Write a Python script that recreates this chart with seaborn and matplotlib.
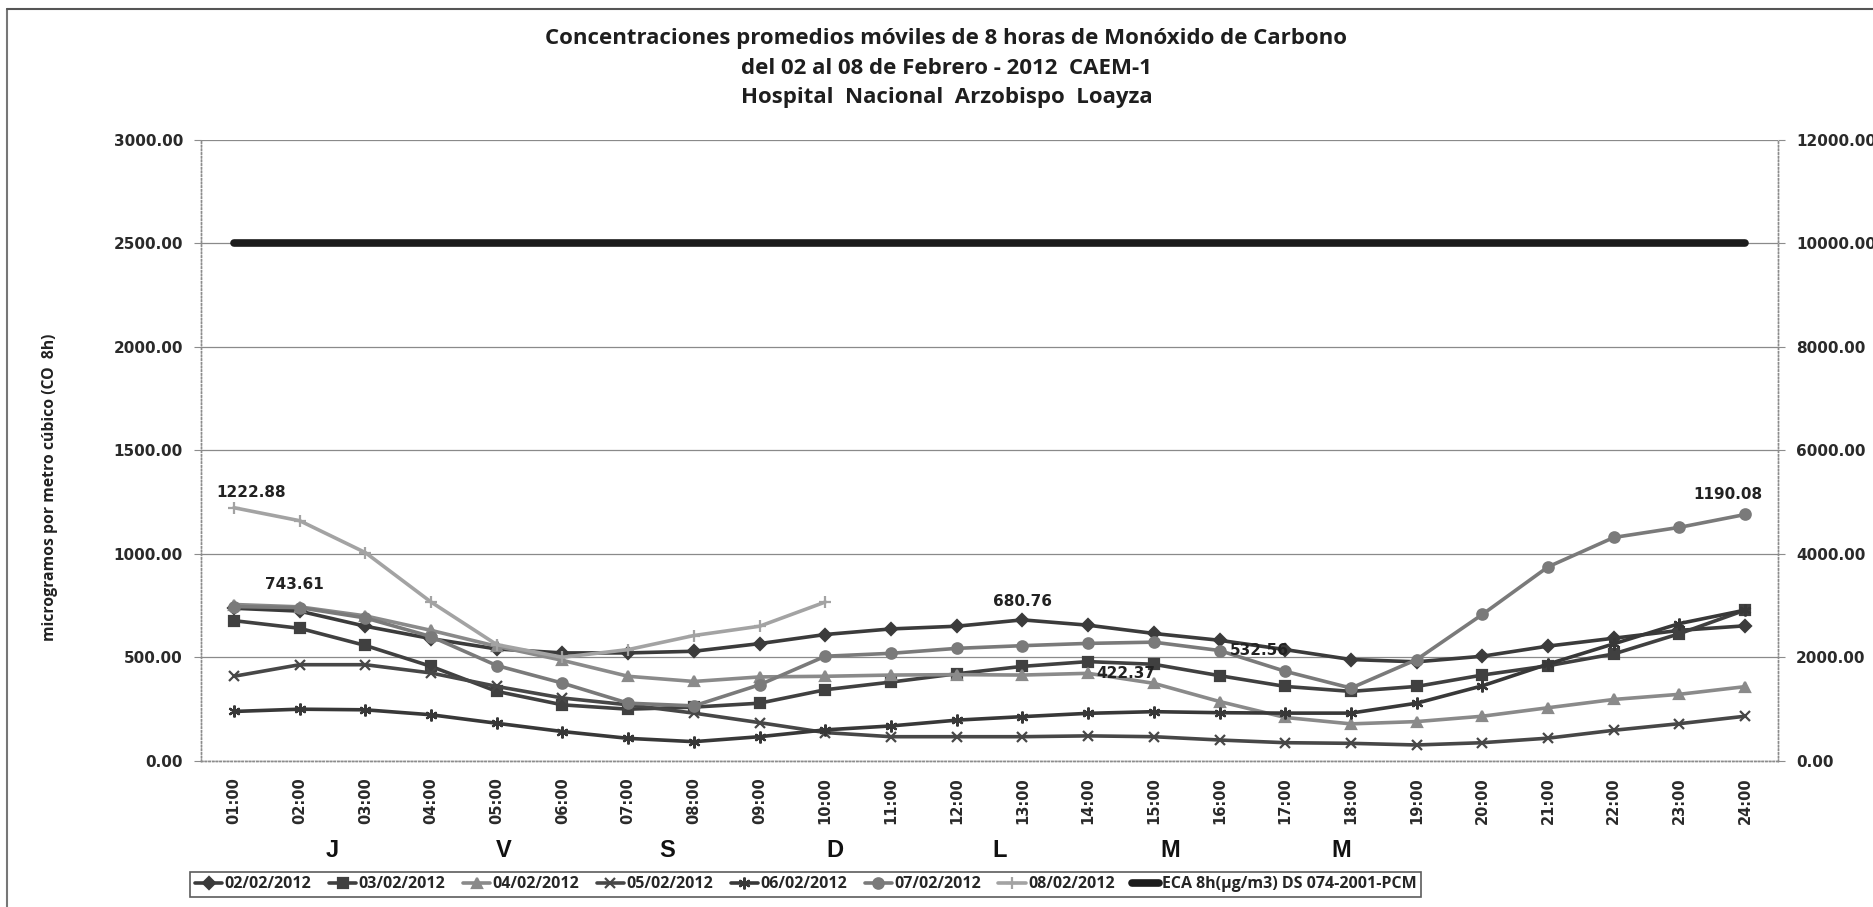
import numpy as np
import pandas as pd
import matplotlib
matplotlib.use("Agg")
import matplotlib.pyplot as plt
import seaborn as sns
from matplotlib.lines import Line2D
from matplotlib.ticker import FormatStrFormatter, MultipleLocator

# Datos (ug/m3, promedio movil 8 h)
horas = ["%02d:00" % h for h in range(1, 25)]

d_02 = [737, 723, 650, 590, 540, 521, 521, 529, 566, 610, 637, 650,
        680.76, 655, 615, 582, 537, 489, 478, 505, 554, 592, 630, 652]
d_03 = [677, 640, 557, 456, 335, 270, 249, 259, 278, 343, 380, 420,
        456, 479, 466, 411, 359, 335, 359, 414, 459, 516, 614, 728]
d_04 = [755, 743.61, 700, 630, 553, 485, 408, 383, 405, 408, 414, 416,
        414, 422.37, 374, 286, 209, 178, 189, 215, 256, 296, 321, 358]
d_05 = [408, 464, 464, 424, 359, 303, 270, 230, 184, 136, 116, 116,
        116, 120, 116, 100, 87, 84, 76, 87, 109, 147, 179, 215]
d_06 = [238, 249, 246, 222, 181, 141, 108, 92, 116, 149, 168, 196,
        213, 229, 237, 232, 230, 230, 278, 362, 467, 565, 663, 728]
d_07 = [745, 740, 690, 600, 460, 375, 278, 265, 367, 505, 519, 543,
        556, 567, 573, 532.56, 432, 351, 489, 707, 937, 1079, 1128, 1190.08]
d_08 = [1222.88, 1160, 1006, 767, 561, 500, 537, 605, 650, 767] + [np.nan] * 14
eca = [10000] * 24

fechas = ["02/02/2012", "03/02/2012", "04/02/2012", "05/02/2012",
          "06/02/2012", "07/02/2012", "08/02/2012"]
eca_label = "ECA 8h(\u00b5g/m3) DS 074-2001-PCM"
dias = ["J", "V", "S", "D", "L", "M", "M"]

# etiquetas de datos: (serie, indice hora, dx px, dy px)
etiquetas = [(6, 0, 17, 15), (2, 1, -5, 22), (0, 12, 0, 18),
             (2, 13, 38, 0), (5, 15, 40, 0), (5, 23, -17, 20)]

series = [d_02, d_03, d_04, d_05, d_06, d_07, d_08]
colores = ["#3b3b3b", "#404040", "#8a8a8a", "#474747", "#383838", "#7a7a7a", "#a3a3a3"]
marcadores = ["D", "s", "^", "x", (6, 2, 0), "o", "+"]
tamanos = [6.5, 7.5, 7.5, 7.5, 8.5, 7.5, 8.5]

sns.set_style("white")
narrow = ["Liberation Sans Narrow", "Open Sans", "DejaVu Sans"]
plt.rcParams["font.family"] = ["DejaVu Sans"]

fig = plt.figure(figsize=(18.74, 9.07), dpi=100)
ax = fig.add_axes([0.1073, 0.1613, 0.8415, 0.6843])
ax2 = ax.twinx()

for vals, fecha, col, mk, ms in zip(series, fechas, colores, marcadores, tamanos):
    sns.lineplot(x=horas, y=vals, ax=ax, color=col, marker=mk, markersize=ms,
                 markeredgecolor=col, markeredgewidth=1.6, linewidth=2.6,
                 label=fecha, sort=False, legend=False)

sns.lineplot(x=horas, y=eca, ax=ax2, color="#1c1c1c", linewidth=5.5,
             label=eca_label, sort=False, legend=False,
             solid_capstyle="round")

ax.set_xlim(-0.5, 23.5)
ax.set_ylim(0, 3000)
ax2.set_ylim(0, 12000)
ax.yaxis.set_major_locator(MultipleLocator(500))
ax2.yaxis.set_major_locator(MultipleLocator(2000))
ax.yaxis.set_major_formatter(FormatStrFormatter("%.2f"))
ax2.yaxis.set_major_formatter(FormatStrFormatter("%.2f"))

ax.grid(axis="y", color="#8a8a8a", linewidth=0.9)
ax.set_axisbelow(True)
ax.set_xlabel("")
ax.set_ylabel("microgramos por metro c\u00fabico (CO  8h)", family=narrow,
              fontweight="bold", fontsize=11.3, color="#222222")
ax.yaxis.set_label_coords(-0.091, 0.44)

for a in (ax, ax2):
    a.spines["top"].set_visible(False)
    for s in ("left", "right", "bottom"):
        a.spines[s].set_color("#8c8c8c")
        a.spines[s].set_linewidth(1.0)
        a.spines[s].set_linestyle(":")

ax.tick_params(axis="y", labelsize=11, labelcolor="#2a2a2a", length=5,
               color="#8c8c8c", pad=8)
ax2.tick_params(axis="y", labelsize=11, labelcolor="#2a2a2a", length=5,
                color="#8c8c8c", pad=8)
for lab in ax.get_yticklabels() + ax2.get_yticklabels():
    lab.set_fontweight("bold")

ax.set_xticks(range(len(horas)))
ax.set_xticklabels(horas, rotation=90, fontsize=10.5, fontweight="bold",
                   color="#2a2a2a")
ax.set_xticks(np.arange(-0.5, 24, 1), minor=True)
ax.tick_params(axis="x", which="major", length=0, pad=12)
ax.tick_params(axis="x", which="minor", length=4, direction="in",
               color="#8c8c8c")

for si, hi, dx, dy in etiquetas:
    v = series[si][hi]
    ax.annotate("%.2f" % v, xy=(hi, v), xytext=(dx, dy),
                textcoords="offset pixels", ha="center", va="center",
                fontsize=11, fontweight="bold", color="#222222")

# letras de los dias bajo el eje
for letra, xp in zip(dias, [1.5, 4.1, 6.6, 9.15, 11.65, 14.25, 16.85]):
    ax.text(xp, -0.145, letra, transform=ax.get_xaxis_transform(),
            ha="center", va="center", fontsize=17, fontweight="bold",
            family=["Liberation Sans", "DejaVu Sans"], color="#111111")

fig.text(0.505, 0.958, "Concentraciones promedios m\u00f3viles de 8 horas de Mon\u00f3xido de Carbono",
         ha="center", va="center", fontsize=16, fontweight="bold",
         family=narrow, color="#1e1e1e")
fig.text(0.505, 0.925, "del 02 al 08 de Febrero - 2012  CAEM-1",
         ha="center", va="center", fontsize=16, fontweight="bold",
         family=narrow, color="#1e1e1e")
fig.text(0.505, 0.892, "Hospital  Nacional  Arzobispo  Loayza",
         ha="center", va="center", fontsize=16, fontweight="bold",
         family=narrow, color="#1e1e1e")

h1, l1 = ax.get_legend_handles_labels()
h2, l2 = ax2.get_legend_handles_labels()
leg = fig.legend(h1 + h2, l1 + l2, loc="center", bbox_to_anchor=(0.43, 0.025),
                 ncol=8, frameon=True, fancybox=False, edgecolor="#333333",
                 handlelength=1.7, handletextpad=0.15, columnspacing=1.1,
                 borderpad=0.3, prop={"family": narrow, "weight": "bold", "size": 11.5})
leg.get_frame().set_linewidth(1.2)

# marco del area del grafico
fig.add_artist(Line2D([0.004, 0.004], [0.0, 0.99], color="#777777", lw=1.5))
fig.add_artist(Line2D([0.004, 1.0], [0.99, 0.99], color="#555555", lw=1.5))

fig.savefig("out.png", dpi=100, facecolor="white")
